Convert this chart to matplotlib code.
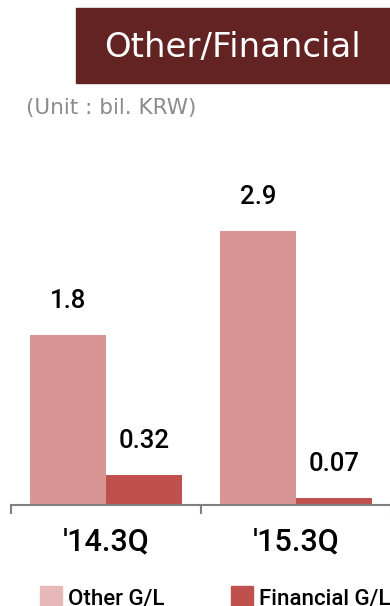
import matplotlib.pyplot as plt
from matplotlib.patches import Rectangle, Patch

# 분기별 기타/금융 손익 (단위: 십억원)
quarters = ["'14.3Q", "'15.3Q"]
other_gl = [1.8, 2.9]
financial_gl = [0.32, 0.07]
series_names = ['Other G/L', 'Financial G/L']

other_color = '#d99594'
other_legend_color = '#e6b8b7'
fin_color = '#c0504d'
num_font = ['Roboto', 'Liberation Sans', 'DejaVu Sans']

W, H = 390, 606
fig = plt.figure(figsize=(W / 100, H / 100), dpi=100)

# 제목 박스
fig.patches.append(Rectangle((76 / W, 1 - 83 / H), 314 / W, 75 / H,
                             transform=fig.transFigure, color='#632323', zorder=0))
fig.text(232 / W, 1 - 47 / H, 'Other/Financial', color='white', fontsize=24.5,
         ha='center', va='center', family='DejaVu Sans')
fig.text(26 / W, 1 - 108 / H, '(Unit : bil. KRW)', color='#8c8c8c', fontsize=15.5,
         ha='left', va='center', family='DejaVu Sans')

# 막대 그래프 영역
px_per_unit = 94.4
ax = fig.add_axes([11 / W, 101 / H, 380 / W, 355 / H])
x = range(len(quarters))
width = 0.4
b1 = ax.bar([i - width / 2 for i in x], other_gl, width, color=other_color)
b2 = ax.bar([i + width / 2 for i in x], financial_gl, width, color=fin_color)
for bars, vals in ((b1, other_gl), (b2, financial_gl)):
    ax.bar_label(bars, labels=[f'{v:g}' for v in vals], padding=16,
                 fontsize=18.5, family=num_font, fontweight='medium', color='black')

ax.set_xlim(-0.5, 1.5)
ax.set_ylim(0, 355 / px_per_unit)
for s in ('left', 'right', 'top'):
    ax.spines[s].set_visible(False)
ax.spines['bottom'].set_color('#808080')
ax.spines['bottom'].set_linewidth(1.5)
ax.set_yticks([])
ax.set_xticks([-0.5, 0.5, 1.5])
ax.set_xticklabels([])
ax.tick_params(axis='x', which='major', length=6.5, width=1.5, color='#808080')
ax.set_xticks(list(x), minor=True)
ax.set_xticklabels(quarters, minor=True, fontsize=22, family=num_font,
                   fontweight='medium')
ax.tick_params(axis='x', which='minor', length=0, pad=16)

# 범례 (아래쪽이 잘림)
handles = [Patch(color=other_legend_color), Patch(color=fin_color)]
fig.legend(handles, series_names, loc='upper left', bbox_to_anchor=(40 / W, 1 - 586 / H),
           ncol=2, frameon=False,
           prop={'family': num_font, 'size': 16, 'weight': 'medium'},
           handlelength=1.0, handleheight=1.2, handletextpad=0.25,
           columnspacing=3.0, borderpad=0, borderaxespad=0)

plt.savefig('out.png', dpi=100)
plt.close()
